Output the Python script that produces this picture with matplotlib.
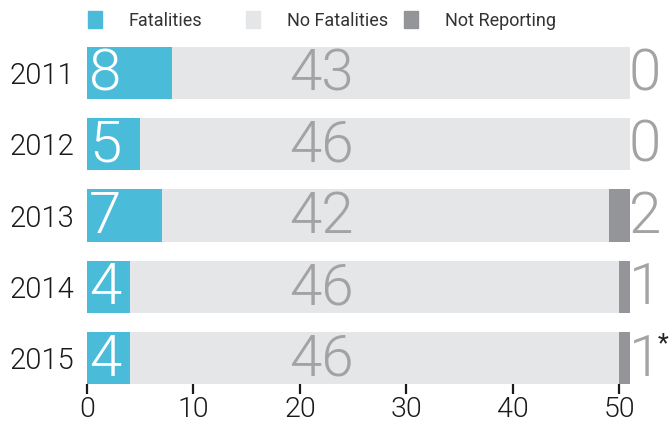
import matplotlib.pyplot as plt
from matplotlib.patches import Rectangle

# data
years = ["2011", "2012", "2013", "2014", "2015"]
fatalities = [8, 5, 7, 4, 4]
no_fatalities = [43, 46, 42, 46, 46]
not_reporting = [0, 0, 2, 1, 1]
right_labels = ["0", "0", "2", "1", "1"]
footnote_row = 4   # 2015 gets an asterisk

C_FAT = "#4abbd9"
C_NOFAT = "#e5e6e8"
C_NR = "#939598"
C_NUM = "#a3a3a3"

plt.rcParams["font.family"] = ["Roboto", "DejaVu Sans"]

fig = plt.figure(figsize=(6.71, 4.23), dpi=100)
ax = fig.add_axes([87 / 671, 1 - 384 / 423, 543 / 671, (384 - 47) / 423])

ypos = list(range(len(years)))
h = 0.73
ax.barh(ypos, fatalities, height=h, color=C_FAT)
ax.barh(ypos, no_fatalities, left=fatalities, height=h, color=C_NOFAT)
left_nr = [a + b for a, b in zip(fatalities, no_fatalities)]
ax.barh(ypos, not_reporting, left=left_nr, height=h, color=C_NR)

big = dict(fontsize=42, fontweight=300, va="center")
for i, y in enumerate(ypos):
    ax.text(0.2, y + 0.03, str(fatalities[i]), color="white", ha="left", **big)
    ax.text(22, y + 0.03, str(no_fatalities[i]), color=C_NUM, ha="center", **big)
    ax.text(50.9, y + 0.03, right_labels[i], color=C_NUM, ha="left",
            clip_on=False, **big)
    if i == footnote_row:
        ax.text(53.6, y - 0.2, "*", color="#222222", fontsize=18,
                ha="left", va="center", clip_on=False)

ax.set_xlim(0, 51)
ax.set_ylim(len(years) - 1 + 0.365, -0.365)
ax.set_yticks(ypos)
ax.set_yticklabels(years, fontweight=300)
ax.set_xticks([0, 10, 20, 30, 40, 50])
ax.set_xticklabels(["0", "10", "20", "30", "40", "50"], fontweight=300)
ax.tick_params(axis="y", length=0, pad=9, labelsize=21, labelcolor="#1a1a1a")
ax.tick_params(axis="x", length=7, width=1.6, pad=1.5, labelsize=20.5,
               labelcolor="#1a1a1a", color="#1a1a1a")
for s in ax.spines.values():
    s.set_visible(False)

# legend along the top
legend_items = [("Fatalities", C_FAT), ("No Fatalities", C_NOFAT), ("Not Reporting", C_NR)]
sq_x = [88, 246, 404]
txt_x = [129, 287, 445]
for (lab, col), sx, tx in zip(legend_items, sq_x, txt_x):
    fig.patches.append(Rectangle((sx / 671, 1 - 28 / 423), 14 / 671, 17 / 423,
                                 transform=fig.transFigure, color=col))
    fig.text(tx / 671, 1 - 21 / 423, lab, fontsize=13, color="#333333",
             ha="left", va="center")

fig.savefig("out.png", dpi=100)
